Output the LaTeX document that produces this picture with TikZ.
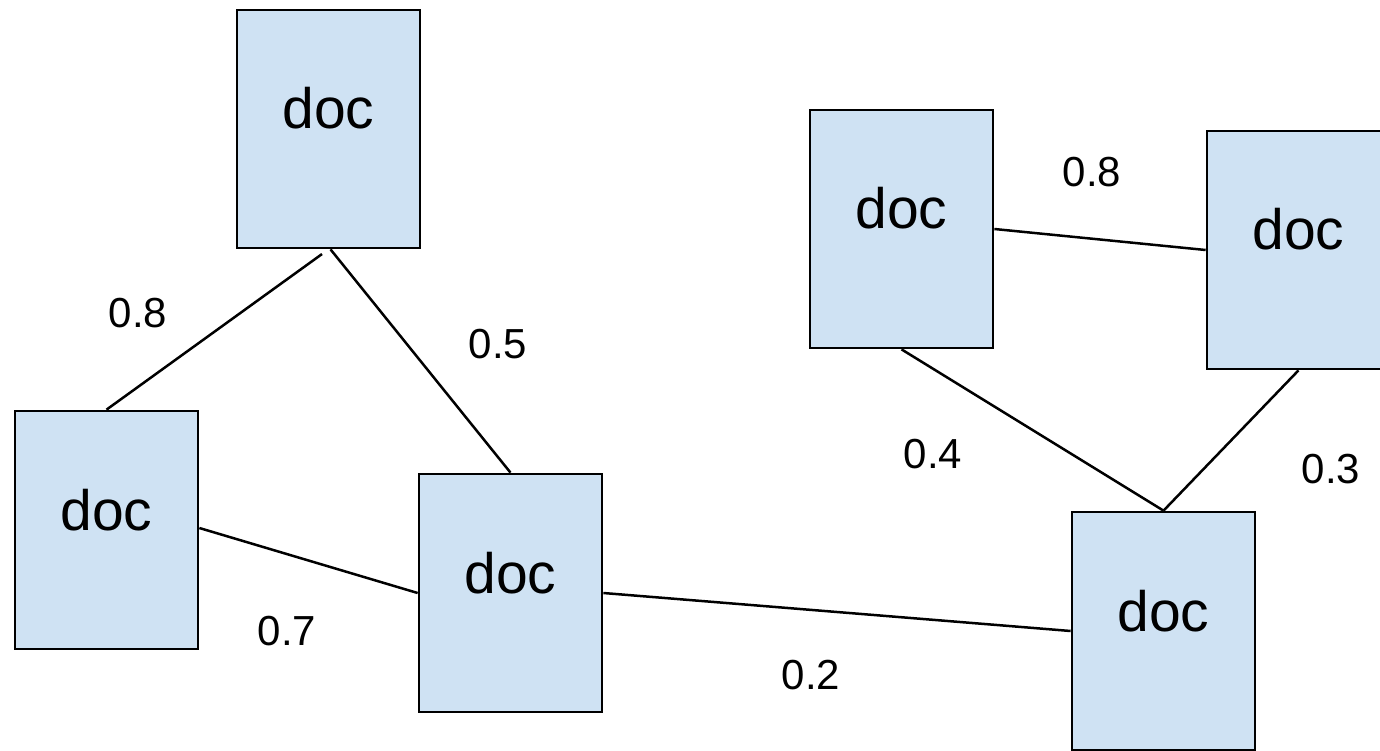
\documentclass[tikz,border=0pt]{standalone}
\usepackage{fontspec}
\setmainfont{Liberation Sans}
\definecolor{docfill}{HTML}{CFE2F3}
\tikzset{
  docbox/.style={draw=black, line width=2.7pt, fill=docfill, rectangle,
    minimum width=183pt, inner xsep=0pt, inner ysep=0pt,
    text height=119pt, text depth=119pt,
    font=\fontsize{57}{60}\selectfont},
  link/.style={draw=black, line width=2.5pt},
  weight/.style={anchor=base, inner sep=0pt, font=\fontsize{42}{46}\selectfont}
}
\begin{document}
\begin{tikzpicture}[x=1pt, y=-1pt]
  \useasboundingbox (0,0) rectangle (1380,751);

  % documents
  \node[docbox] (A) at (328.5,129) {doc};
  \node[docbox] (B) at (106.5,530) {doc};
  \node[docbox] (C) at (510.5,593) {doc};
  \node[docbox] (D) at (901.5,229) {doc};
  \node[docbox] (E) at (1298.5,250) {doc};
  \node[docbox] (F) at (1163.5,631) {doc};

  % similarity links
  \draw[link, shorten <=8pt] (A.south) -- (B.north);
  \draw[link] ([xshift=2pt]A.south) -- (C.north);
  \draw[link] ([yshift=2pt]B.east) -- (C.west);
  \draw[link] (C.east) -- (F.west);
  \draw[link] (D.east) -- (E.west);
  \draw[link] (D.south) -- (F.north);
  \draw[link] (E.south) -- (F.north);

  % weights
  \node[weight] (wAB) at (138,327) {0.8};
  \node[weight] (wAC) at (498,358) {0.5};
  \node[weight] (wBC) at (287,645) {0.7};
  \node[weight] (wCF) at (811,689) {0.2};
  \node[weight] (wDE) at (1092,187) {0.8};
  \node[weight] (wDF) at (933,468) {0.4};
  \node[weight] (wEF) at (1331,483) {0.3};
\end{tikzpicture}
\end{document}
